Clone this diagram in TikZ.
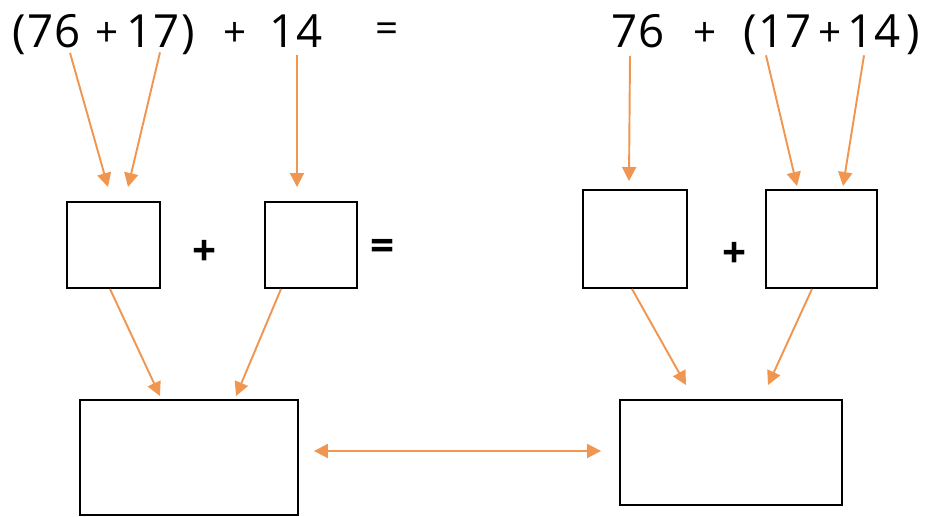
\documentclass[tikz,border=0pt]{standalone}
\usepackage{fontspec}
\setmainfont{Open Sans}
\usetikzlibrary{arrows.meta,calc}
\definecolor{arrorange}{RGB}{240,150,80}

\begin{document}
\begin{tikzpicture}[
    x=0.02cm, y=-0.02cm,
    >={Triangle[length=0.28cm,width=0.28cm]},
    num/.style={anchor=base, inner sep=0pt, font=\fontsize{26}{30}\selectfont},
    sign/.style={inner sep=0pt, font=\fontsize{23}{27}\selectfont},
    op/.style={inner sep=0pt, font=\fontsize{24}{28}\selectfont\bfseries},
    box/.style={draw, line width=1.1pt, inner sep=0pt},
    arr/.style={->, draw=arrorange, line width=1.1pt}
  ]
  \useasboundingbox (0,0) rectangle (927,517);

  % left side of the equation
  \node[num]  (lpo) at (19,48)  {(};
  \node[num]  (la)  at (54,48)  {76};
  \node[sign] (lp1) at (107,34) {+};
  \node[num]  (lb)  at (153,48) {17};
  \node[num]  (lpc) at (188,48) {)};
  \node[sign] (lp2) at (235,34) {+};
  \node[num]  (lc)  at (296,48) {14};
  \node[sign] (eq)  at (387,33) {=};

  % right side of the equation
  \node[num]  (ra)  at (638,48) {76};
  \node[sign] (rp1) at (705,34) {+};
  \node[num]  (rpo) at (750,48) {(};
  \node[num]  (rb)  at (785,48) {17};
  \node[sign] (rp2) at (830,34) {+};
  \node[num]  (rc)  at (874,48) {14};
  \node[num]  (rpc) at (913,48) {)};

  % boxes for the partial sums
  \node[box, minimum width=1.86cm, minimum height=1.72cm] (bA) at (113.5,245) {};
  \node[op] (mp1) at (205,253) {+};
  \node[box, minimum width=1.84cm, minimum height=1.72cm] (bB) at (311,245) {};
  \node[op] (meq) at (383,250) {=};
  \node[box, minimum width=2.08cm, minimum height=1.96cm] (bC) at (635,239) {};
  \node[op] (mp2) at (735,255) {+};
  \node[box, minimum width=2.22cm, minimum height=1.96cm] (bD) at (821.5,239) {};

  % boxes for the totals
  \node[box, minimum width=4.36cm, minimum height=2.30cm] (bE) at (189,457.5) {};
  \node[box, minimum width=4.44cm, minimum height=2.10cm] (bF) at (731,452.5) {};

  % numbers into the first boxes
  \draw[arr] ($(la.south)+(16,4)$) -- ($(bA.north)+(-5.5,-14)$);
  \draw[arr] ($(lb.south)+(7,4)$) -- ($(bA.north)+(14.5,-14)$);
  \draw[arr] ($(lc.south)+(1,7)$) -- ($(bB.north)+(-14,-14)$);
  \draw[arr] ($(ra.south)+(-8,7)$) -- ($(bC.north)+(-6,-8)$);
  \draw[arr] ($(rb.south)+(-19,7)$) -- ($(bD.north)+(-24.5,-3)$);
  \draw[arr] ($(rc.south)+(-10,7)$) -- ($(bD.north)+(21.5,-3)$);

  % first boxes into the totals
  \draw[arr] ($(bA.south)+(-3.5,0)$) -- ($(bE.north)+(-29,-3)$);
  \draw[arr] ($(bB.south)+(-30,0)$) -- ($(bE.north)+(47,-3)$);
  \draw[arr] ($(bC.south)+(-3,0)$) -- ($(bF.north)+(-45,-14)$);
  \draw[arr] ($(bD.south)+(-9.5,0)$) -- ($(bF.north)+(37,-14)$);

  % both totals are equal
  \draw[arr, <->] ($(bE.east)+(15,-6.5)$) -- ($(bF.west)+(-18,-1.5)$);

\end{tikzpicture}
\end{document}
